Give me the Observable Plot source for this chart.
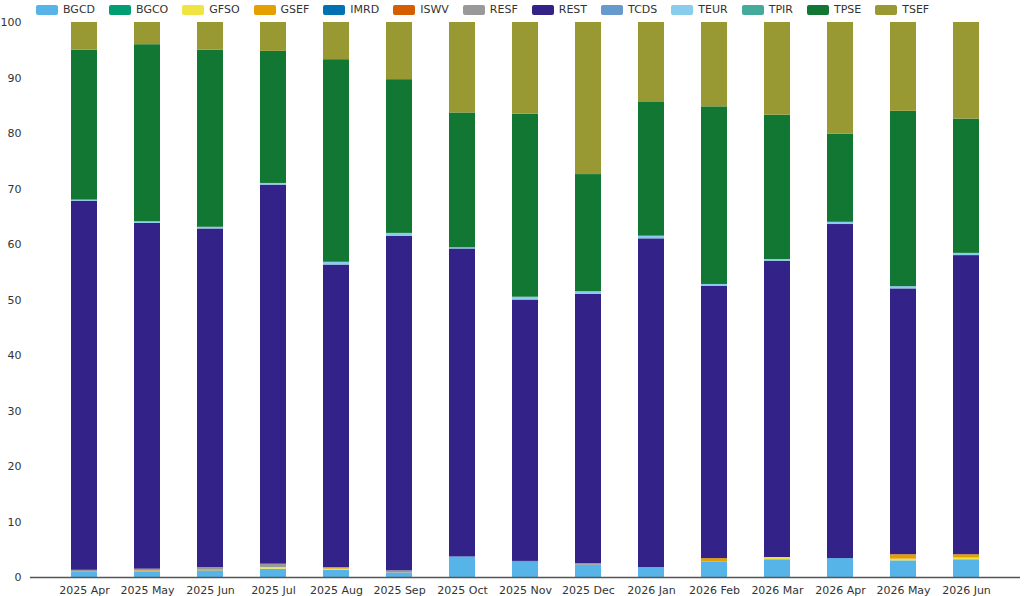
<!DOCTYPE html>
<html><head><meta charset="utf-8">
<script src="https://cdn.jsdelivr.net/npm/d3@7"></script>
<script src="https://cdn.jsdelivr.net/npm/@observablehq/plot@0.6"></script>
<style>
body{margin:0;background:#fff;font-family:Verdana,"DejaVu Sans",sans-serif;}
#legend{display:flex;gap:0;height:16px;padding-top:3px;align-items:center;padding-left:36px;font-size:11px;color:#333;box-sizing:border-box;height:16px;}
#legend span.i{display:inline-flex;align-items:center;margin-right:14px;}
#legend span.s{width:22px;height:10px;border-radius:2px;margin-right:5px;display:inline-block;}
</style></head><body>
<div id="legend"></div>
<div id="chart"></div>
<script>
const months = ["2025 Apr","2025 May","2025 Jun","2025 Jul","2025 Aug","2025 Sep","2025 Oct","2025 Nov","2025 Dec","2026 Jan","2026 Feb","2026 Mar","2026 Apr","2026 May","2026 Jun"];
const series = ["BGCD","BGCO","GFSO","GSEF","IMRD","ISWV","RESF","REST","TCDS","TEUR","TPIR","TPSE","TSEF"];
const colors = ["#56B4E9","#009E73","#F0E442","#E69F00","#0072B2","#D55E00","#999999","#332288","#6699CC","#88CCEE","#44AA99","#117733","#999933"];
const BGCD = [1.0,1.0,1.2,1.5,1.3,0.8,3.7,2.7,2.2,1.8,2.8,3.2,3.4,3.0,3.2];
const BGCO = [0,0,0,0,0,0,0,0,0,0,0,0,0,0,0];
const GFSO = [0,0,0,0.3,0.2,0,0,0,0,0,0,0.4,0,0.3,0.3];
const GSEF = [0,0.2,0.2,0,0.3,0,0,0,0,0,0.6,0,0,0.8,0.6];
const IMRD = [0,0,0,0,0,0,0,0,0,0,0,0,0,0,0];
const ISWV = [0,0,0,0,0,0,0,0,0,0,0,0,0,0,0];
const RESF = [0.3,0.3,0.4,0.6,0,0.4,0,0.2,0.3,0,0,0,0,0,0];
const REST = [66.5,62.3,61.0,68.3,54.5,60.3,55.5,47.1,48.5,59.2,49.1,53.4,60.2,47.9,53.9];
const TCDS = [0,0,0,0,0,0,0,0,0,0.2,0,0,0,0,0];
const TEUR = [0.2,0.3,0.3,0.3,0.5,0.5,0.2,0.5,0.5,0.3,0.3,0.3,0.4,0.4,0.4];
const TPIR = [0,0,0,0,0,0,0,0,0,0,0,0,0,0,0];
const TPSE = [27.0,31.9,31.9,23.8,36.5,27.7,24.3,33.0,21.1,24.2,32.0,26.0,15.9,31.6,24.2];
const TSEF = [5.0,4.0,5.0,5.2,6.7,10.3,16.3,16.5,27.4,14.3,15.2,16.7,20.1,16.0,17.4];
const vals = {BGCD,BGCO,GFSO,GSEF,IMRD,ISWV,RESF,REST,TCDS,TEUR,TPIR,TPSE,TSEF};
const data = [];
series.forEach(s => months.forEach((m,i) => data.push({month:m, series:s, value:vals[s][i]})));

const leg = document.getElementById("legend");
series.forEach((s,i)=>{leg.innerHTML += `<span class="i"><span class="s" style="background:${colors[i]}"></span>${s}</span>`;});

const chart = Plot.plot({
  width:1024, height:580,
  marginTop:6, marginLeft:30, marginRight:4, marginBottom:19,
  style:{fontSize:"11px", fontFamily:"Verdana, 'DejaVu Sans', sans-serif", color:"#333"},
  x:{domain:months, label:null, padding:0.58, tickSize:0},
  y:{domain:[0,100], ticks:d3.range(0,101,10), label:null, tickSize:0},
  color:{domain:series, range:colors},
  marks:[
    Plot.barY(data, Plot.stackY({order:series}, {x:"month", y:"value", fill:"series"})),
    Plot.ruleY([0], {stroke:"#555", strokeWidth:1.5})
  ]
});
document.getElementById("chart").appendChild(chart);
</script></body></html>
